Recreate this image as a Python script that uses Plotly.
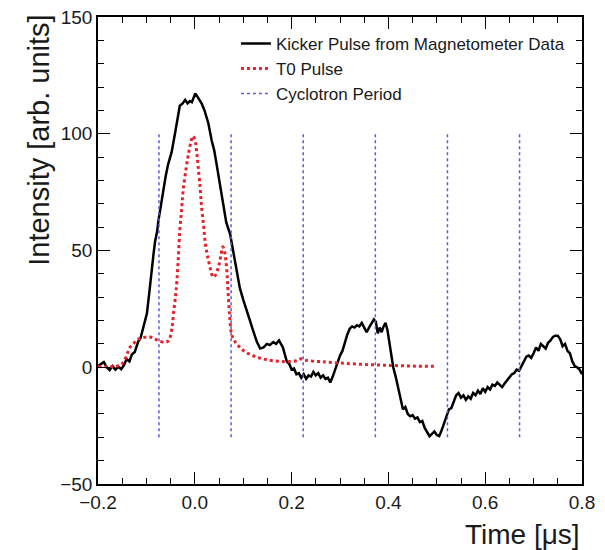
import plotly.graph_objects as go

# Kicker pulse from magnetometer data (time in microseconds, intensity arb. units)
kicker_t = [-0.200, -0.194, -0.188, -0.182, -0.176, -0.170, -0.164, -0.158, -0.152, -0.146,
            -0.141, -0.135, -0.130, -0.124, -0.117, -0.112, -0.108, -0.103, -0.099, -0.094,
            -0.089, -0.085, -0.082, -0.078, -0.075, -0.070, -0.065, -0.060, -0.055, -0.048,
            -0.041, -0.036, -0.031, -0.025, -0.020, -0.015, -0.010, -0.006, -0.002, 0.001,
            0.005, 0.010, 0.014, 0.020, 0.028, 0.035, 0.040, 0.045, 0.050, 0.055,
            0.059, 0.065, 0.073, 0.080, 0.086, 0.093, 0.100, 0.107, 0.114, 0.120,
            0.128, 0.135, 0.142, 0.149, 0.155, 0.162, 0.168, 0.174, 0.178, 0.182,
            0.186, 0.190, 0.195, 0.200, 0.205, 0.210, 0.215, 0.220, 0.225, 0.230,
            0.235, 0.240, 0.245, 0.250, 0.255, 0.260, 0.265, 0.270, 0.275, 0.280,
            0.285, 0.290, 0.295, 0.300, 0.305, 0.310, 0.315, 0.320, 0.325, 0.330,
            0.335, 0.340, 0.345, 0.350, 0.355, 0.360, 0.365, 0.370, 0.374, 0.378,
            0.382, 0.386, 0.390, 0.394, 0.398, 0.402, 0.406, 0.410, 0.415, 0.420,
            0.425, 0.430, 0.435, 0.440, 0.445, 0.450, 0.455, 0.460, 0.465, 0.470,
            0.475, 0.480, 0.485, 0.490, 0.495, 0.500, 0.505, 0.510, 0.515, 0.520,
            0.525, 0.530, 0.535, 0.540, 0.545, 0.550, 0.555, 0.560, 0.565, 0.570,
            0.575, 0.580, 0.585, 0.590, 0.595, 0.600, 0.605, 0.610, 0.615, 0.620,
            0.625, 0.630, 0.635, 0.640, 0.645, 0.650, 0.655, 0.660, 0.665, 0.670,
            0.675, 0.680, 0.685, 0.690, 0.695, 0.700, 0.705, 0.710, 0.715, 0.720,
            0.725, 0.730, 0.735, 0.740, 0.745, 0.750, 0.755, 0.760, 0.765, 0.770,
            0.775, 0.780, 0.785, 0.790, 0.795, 0.800]
kicker_y = [0.5, 1.5, 2.2, 0.0, -1.2, 0.5, -1.0, 0.2, -0.8, 1.0,
            3.5, 2.5, 5.5, 6.5, 11.0, 12.5, 16.0, 19.0, 23.0, 32.0,
            43.0, 49.0, 54.0, 58.0, 63.0, 70.0, 77.0, 82.0, 87.0, 92.0,
            100.0, 106.0, 112.0, 113.0, 114.5, 113.0, 114.0, 113.5, 115.5, 117.3,
            116.0, 114.5, 113.0, 110.0, 104.5, 97.0, 93.0, 87.0, 81.0, 75.0,
            69.0, 62.0, 57.0, 49.0, 42.0, 34.0, 29.0, 24.0, 20.0, 16.0,
            11.0, 8.0, 8.5, 10.0, 9.5, 10.8, 10.0, 11.5, 10.0, 8.5,
            5.5, 2.5, 1.5, -1.0, -0.5, -3.0, -2.5, -4.5, -3.0, -5.0,
            -3.5, -4.0, -2.0, -3.5, -2.5, -4.5, -3.5, -5.0, -4.5, -6.5,
            -4.0, -1.0, 2.0, 5.0, 7.0, 11.0, 14.0, 16.5, 17.5, 17.0,
            18.0, 17.5, 19.0, 17.0, 15.0, 17.0, 18.5, 20.5, 19.5, 14.5,
            17.0, 15.0, 17.5, 19.0, 16.0, 10.0, 5.0, 0.0, -4.0, -9.0,
            -13.0, -18.0, -17.0, -20.0, -21.0, -20.5, -22.0, -21.5, -23.5, -23.0,
            -26.0, -27.5, -29.5, -28.5, -27.5, -29.0, -29.5, -27.0, -24.0, -21.0,
            -18.0, -17.5, -14.5, -12.0, -11.0, -13.0, -12.0, -14.0, -12.5, -13.5,
            -11.0, -12.0, -10.0, -11.5, -9.0, -10.5, -8.5, -9.5, -7.5, -8.0,
            -6.5, -7.5, -8.5, -7.0, -5.5, -4.5, -3.0, -2.5, -1.0, -1.5,
            0.5, 3.0, 4.5, 5.0, 4.0, 6.0, 8.5, 7.0, 10.0, 9.0,
            8.0, 10.5, 11.5, 13.0, 13.5, 13.5, 12.0, 9.0, 10.0, 7.0,
            6.0, 2.5, 0.5, 0.0, -1.0, -3.0]

# T0 pulse
t0_t = [-0.200, -0.170, -0.155, -0.148, -0.140, -0.134, -0.125, -0.117, -0.105, -0.093,
        -0.083, -0.075, -0.062, -0.055, -0.051, -0.047, -0.044, -0.040, -0.037, -0.034,
        -0.031, -0.027, -0.024, -0.018, -0.013, -0.008, -0.004, 0.000, 0.004, 0.007,
        0.011, 0.014, 0.018, 0.021, 0.025, 0.028, 0.033, 0.038, 0.043, 0.049,
        0.054, 0.058, 0.061, 0.064, 0.067, 0.069, 0.072, 0.076, 0.083, 0.093,
        0.105, 0.121, 0.140, 0.162, 0.190, 0.210, 0.220, 0.230, 0.260, 0.300,
        0.350, 0.400, 0.450, 0.500]
t0_y = [0.3, 0.3, 0.8, 2.0, 5.5, 8.5, 10.5, 12.0, 12.8, 13.0,
        12.2, 11.4, 10.7, 11.2, 12.8, 17.0, 23.0, 30.0, 37.0, 47.0,
        58.6, 68.0, 76.0, 85.0, 91.5, 96.5, 99.0, 97.5, 92.0, 85.8,
        77.0, 68.6, 61.0, 54.5, 49.0, 46.0, 41.5, 38.6, 39.5, 43.0,
        48.0, 51.6, 50.0, 46.0, 39.0, 31.4, 22.0, 14.2, 11.0, 8.5,
        6.5, 4.9, 3.6, 2.8, 2.4, 2.8, 3.6, 3.0, 2.4, 1.8,
        1.2, 0.8, 0.5, 0.4]

# Cyclotron period markers
cyclotron_t = [-0.074, 0.075, 0.224, 0.373, 0.522, 0.671]
cyclotron_y_range = [-30, 100]

cyc_x, cyc_y = [], []
for t in cyclotron_t:
    cyc_x += [t, t, None]
    cyc_y += [cyclotron_y_range[0], cyclotron_y_range[1], None]

FONT = "Liberation Sans, Arial, Helvetica, sans-serif"
TXT = "#1a1a1a"

fig = go.Figure()
fig.add_trace(go.Scatter(x=kicker_t, y=kicker_y, mode="lines",
                         name="Kicker Pulse from Magnetometer Data",
                         line=dict(color="black", width=2.5)))
fig.add_trace(go.Scatter(x=t0_t, y=t0_y, mode="lines", name="T0 Pulse",
                         line=dict(color="#e8202a", width=3, dash="dot", shape="spline")))
fig.add_trace(go.Scatter(x=cyc_x, y=cyc_y, mode="lines", name="Cyclotron Period",
                         line=dict(color="#5a5ae6", width=1.5, dash="dot")))

axis_common = dict(showgrid=False, zeroline=False, showline=True, linecolor="black",
                   linewidth=1.5, mirror="ticks", ticks="inside", ticklen=12,
                   tickwidth=1.2, tickcolor="black", automargin=False,
                   ticklabeloverflow="allow",
                   tickfont=dict(family=FONT, size=19, color=TXT))

fig.update_xaxes(range=[-0.2, 0.8], tick0=-0.2, dtick=0.2, tickformat=".1f",
                 minor=dict(dtick=0.05, ticks="inside", ticklen=6, tickcolor="black", tickwidth=1.2),
                 **axis_common)
fig.update_yaxes(range=[-50, 150], tick0=-50, dtick=50,
                 minor=dict(dtick=10, ticks="inside", ticklen=6, tickcolor="black", tickwidth=1.2),
                 **axis_common)

# the page body adds an 8px offset; size the figure so the plot lands where the reference has it
fig.update_layout(
    width=597, height=542,
    margin=dict(l=90, r=23, t=9, b=66),
    plot_bgcolor="white", paper_bgcolor="white",
    font=dict(family=FONT, color=TXT),
    legend=dict(x=0.285, y=0.981, xanchor="left", yanchor="top",
                bgcolor="rgba(0,0,0,0)", font=dict(family=FONT, size=17, color=TXT),
                itemwidth=30),
    annotations=[
        dict(text="Intensity [arb. units]", textangle=-90, xref="paper", yref="paper",
             x=-0.122, y=1.01, xanchor="center", yanchor="top", showarrow=False,
             font=dict(family=FONT, size=29, color=TXT)),
        dict(text="Time [μs]", xref="paper", yref="paper", x=1.0, y=-0.108,
             xanchor="right", yanchor="middle", showarrow=False,
             font=dict(family=FONT, size=28, color=TXT)),
    ],
)

fig.write_html("out.html")
